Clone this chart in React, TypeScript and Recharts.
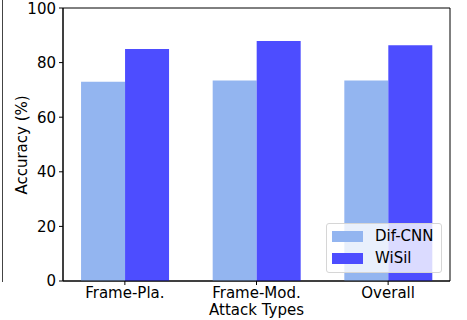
import { Bar, BarChart, ReferenceArea, XAxis, YAxis } from "recharts";

const categories = ["Frame-Pla.", "Frame-Mod.", "Overall"];
const difCnn = [73.0, 73.4, 73.4];
const wiSil = [85.0, 87.9, 86.4];
const yTicks = [0, 20, 40, 60, 80, 100];

const LIGHT = "#93b5f0";
const DARK = "#4d4dff";
const FONT = "'DejaVu Sans', sans-serif";
const FS = 15;

const data = categories.map((name, i) => ({
  x: i,
  name,
  difCnn: difCnn[i],
  wiSil: wiSil[i],
}));

function LegendBox() {
  const items = [
    { label: "Dif-CNN", color: LIGHT },
    { label: "WiSil", color: DARK },
  ];
  return (
    <div
      style={{
        position: "absolute",
        left: 326,
        top: 223,
        width: 114,
        height: 48,
        background: "rgba(255,255,255,0.8)",
        border: "1px solid #d6d6d6",
        borderRadius: 3,
        fontFamily: FONT,
        fontSize: FS,
        color: "#000",
      }}
    >
      {items.map((it, i) => (
        <div
          key={it.label}
          style={{
            position: "absolute",
            left: 5,
            top: 3 + i * 22,
            display: "flex",
            alignItems: "center",
            height: 18,
          }}
        >
          <span style={{ width: 31, height: 11, background: it.color, display: "inline-block" }} />
          <span style={{ marginLeft: 12, lineHeight: "18px" }}>{it.label}</span>
        </div>
      ))}
    </div>
  );
}

export default function App() {
  return (
    <div style={{ position: "absolute", left: 0, top: 0, width: 467, height: 320, background: "#fff" }}>
      <div style={{ position: "absolute", left: 2, top: 0, width: 1, height: 282, background: "#444" }} />
      <BarChart
        width={467}
        height={320}
        data={data}
        margin={{ top: 8, right: 17, bottom: 0, left: 0 }}
        barGap={0}
      >
        <XAxis
          type="number"
          dataKey="x"
          domain={[-0.47, 2.47]}
          ticks={[0, 1, 2]}
          allowDataOverflow
          tickFormatter={(v: number) => categories[v] ?? ""}
          height={39}
          tickSize={4}
          tickMargin={2}
          stroke="#000"
          tick={{ fill: "#000", fontSize: FS, fontFamily: FONT }}
          label={{
            value: "Attack Types",
            position: "insideBottom",
            offset: 5,
            fill: "#000",
            fontSize: FS,
            fontFamily: FONT,
          }}
        />
        <YAxis
          domain={[0, 100]}
          ticks={yTicks}
          width={63}
          tickSize={4}
          tickMargin={3}
          stroke="#000"
          tick={{ fill: "#000", fontSize: FS, fontFamily: FONT }}
          label={{
            content: () => (
              <text
                x={22}
                y={145}
                transform="rotate(-90 22 145)"
                textAnchor="middle"
                dominantBaseline="central"
                fill="#000"
                fontSize={FS}
                fontFamily={FONT}
              >
                Accuracy (%)
              </text>
            ),
          }}
        />
        <Bar dataKey="difCnn" fill={LIGHT} barSize={44} isAnimationActive={false} />
        <Bar dataKey="wiSil" fill={DARK} barSize={44} isAnimationActive={false} />
        <ReferenceArea
          x1={-0.47}
          x2={2.47}
          y1={0}
          y2={100}
          fill="none"
          stroke="#000"
          strokeWidth={1}
          fillOpacity={0}
          ifOverflow="extendDomain"
        />
      </BarChart>
      <LegendBox />
    </div>
  );
}
